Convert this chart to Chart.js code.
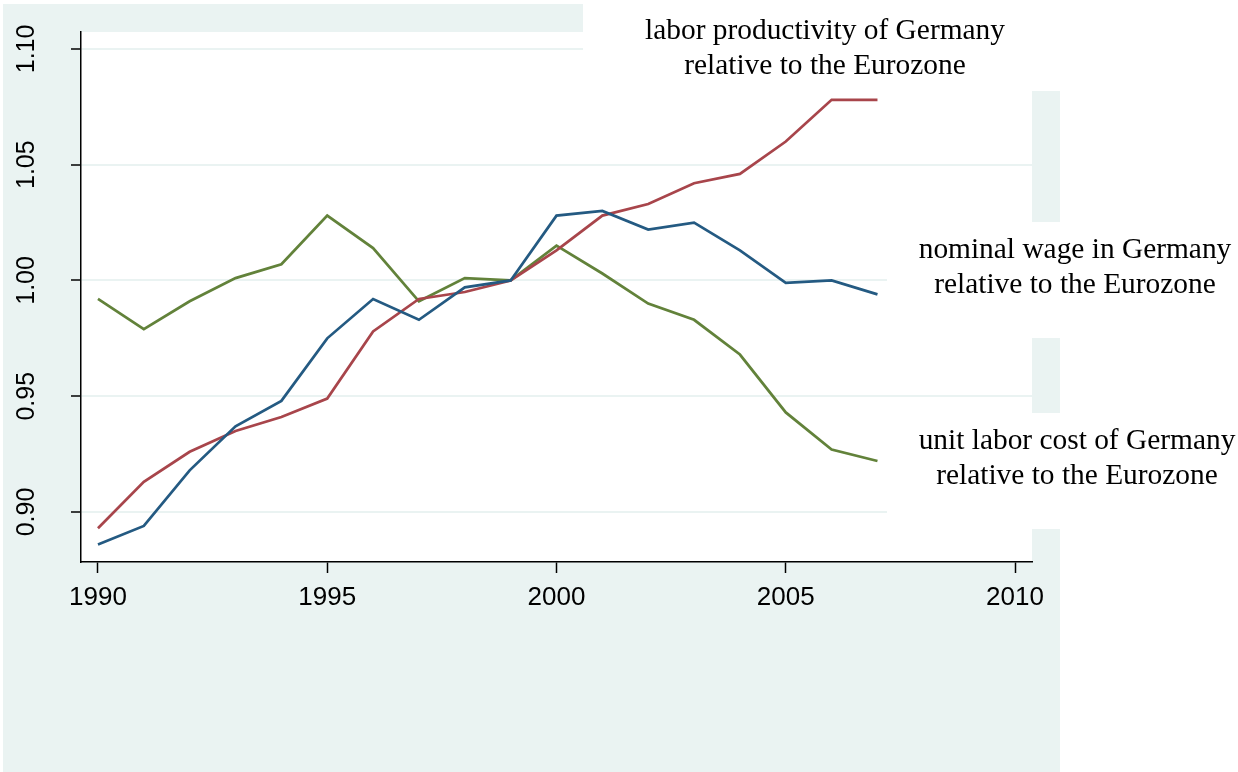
<!DOCTYPE html>
<html>
<head>
<meta charset="utf-8">
<script src="https://cdn.jsdelivr.net/npm/chart.js"></script>
<style>
  html, body { margin: 0; padding: 0; background: #ffffff; }
  #wrap { width: 1238px; height: 772px; }
</style>
</head>
<body>
<div id="wrap"><canvas id="chart" width="1238" height="772"></canvas></div>
<script>
// data
const years = [1990, 1991, 1992, 1993, 1994, 1995, 1996, 1997, 1998, 1999,
               2000, 2001, 2002, 2003, 2004, 2005, 2006, 2007];

const nominalWage = [0.886, 0.894, 0.918, 0.937, 0.948, 0.975, 0.992, 0.983, 0.997, 1.000,
                     1.028, 1.030, 1.022, 1.025, 1.013, 0.999, 1.000, 0.994];

const productivity = [0.893, 0.913, 0.926, 0.935, 0.941, 0.949, 0.978, 0.992, 0.995, 1.000,
                      1.013, 1.028, 1.033, 1.042, 1.046, 1.060, 1.078, 1.078];

const unitLaborCost = [0.992, 0.979, 0.991, 1.001, 1.007, 1.028, 1.014, 0.991, 1.001, 1.000,
                       1.015, 1.003, 0.990, 0.983, 0.968, 0.943, 0.927, 0.922];

const xTicks = [1990, 1995, 2000, 2005, 2010];
const yTicks = [0.90, 0.95, 1.00, 1.05, 1.10];

const labelProductivity = ["labor productivity of Germany", "relative to the Eurozone"];
const labelWage = ["nominal wage in Germany", "relative to the Eurozone"];
const labelUlc = ["unit labor cost of Germany", "relative to the Eurozone"];

const TEAL = "#eaf3f2";

function pts(arr) {
    return years.map((yr, i) => ({ x: yr, y: arr[i] }));
}

// teal graph region + white plot region
const backdrop = {
    id: "backdrop",
    beforeDraw(chart) {
        const ctx = chart.ctx;
        const a = chart.chartArea;
        ctx.save();
        ctx.fillStyle = TEAL;
        ctx.fillRect(3, 4, 1057, 768);
        ctx.fillStyle = "#ffffff";
        ctx.fillRect(a.left, a.top, a.right - a.left, a.bottom - a.top);
        ctx.restore();
    }
};

// rotated y labels + text boxes
const annotations = {
    id: "annotations",
    afterDraw(chart) {
        const ctx = chart.ctx;
        const ys = chart.scales.y;
        ctx.save();

        ctx.fillStyle = "#000";
        ctx.font = "25px 'Liberation Sans', Arial, sans-serif";
        ctx.textAlign = "center";
        ctx.textBaseline = "middle";
        yTicks.forEach(v => {
            const py = ys.getPixelForValue(v);
            ctx.save();
            ctx.translate(27, py);
            ctx.rotate(-Math.PI / 2);
            ctx.fillText(v.toFixed(2), 0, 0);
            ctx.restore();
        });

        // white boxes behind the labels
        ctx.fillStyle = "#ffffff";
        ctx.fillRect(583, 0, 655, 91);
        ctx.fillRect(887, 222, 351, 116);
        ctx.fillRect(887, 413, 351, 116);

        ctx.fillStyle = "#000";
        ctx.font = "29.4px 'Liberation Serif', 'Times New Roman', serif";
        ctx.textAlign = "center";
        ctx.textBaseline = "middle";
        const put = (lines, cx, cy) => {
            ctx.fillText(lines[0], cx, cy);
            ctx.fillText(lines[1], cx, cy + 35);
        };
        put(labelProductivity, 825, 31);
        put(labelWage, 1075, 250);
        put(labelUlc, 1077, 441);

        ctx.restore();
    }
};

new Chart(document.getElementById("chart"), {
    type: "line",
    data: {
        datasets: [
            {
                label: "nominal wage",
                data: pts(nominalWage),
                borderColor: "#245a82",
                borderWidth: 2.7,
                pointRadius: 0,
                tension: 0
            },
            {
                label: "labor productivity",
                data: pts(productivity),
                borderColor: "#a8454b",
                borderWidth: 2.7,
                pointRadius: 0,
                tension: 0
            },
            {
                label: "unit labor cost",
                data: pts(unitLaborCost),
                borderColor: "#62823a",
                borderWidth: 2.7,
                pointRadius: 0,
                tension: 0
            }
        ]
    },
    options: {
        responsive: false,
        devicePixelRatio: 1,
        animation: false,
        layout: {
            padding: { top: 32, right: 206, left: 0, bottom: 0 }
        },
        plugins: {
            legend: { display: false },
            tooltip: { enabled: false }
        },
        scales: {
            x: {
                type: "linear",
                min: 1989.63,
                max: 2010.37,
                afterBuildTicks: s => { s.ticks = xTicks.map(v => ({ value: v })); },
                afterFit: s => { s.height = 210; },
                border: { color: "#000", width: 1.5 },
                grid: {
                    drawOnChartArea: false,
                    drawTicks: true,
                    tickLength: 11,
                    tickColor: "#000",
                    tickWidth: 1.5
                },
                ticks: {
                    color: "#000",
                    padding: 9,
                    maxRotation: 0,
                    font: { family: "'Liberation Sans', Arial, sans-serif", size: 26 },
                    callback: v => String(v)
                }
            },
            y: {
                min: 0.8784,
                max: 1.1073,
                afterBuildTicks: s => { s.ticks = yTicks.map(v => ({ value: v })); },
                afterFit: s => { s.width = 81; },
                border: { color: "#000", width: 1.5 },
                grid: {
                    color: TEAL,
                    lineWidth: 2,
                    drawTicks: true,
                    tickLength: 10,
                    tickColor: "#000",
                    tickWidth: 1.5
                },
                ticks: { display: false }
            }
        }
    },
    plugins: [backdrop, annotations]
});
</script>
</body>
</html>
